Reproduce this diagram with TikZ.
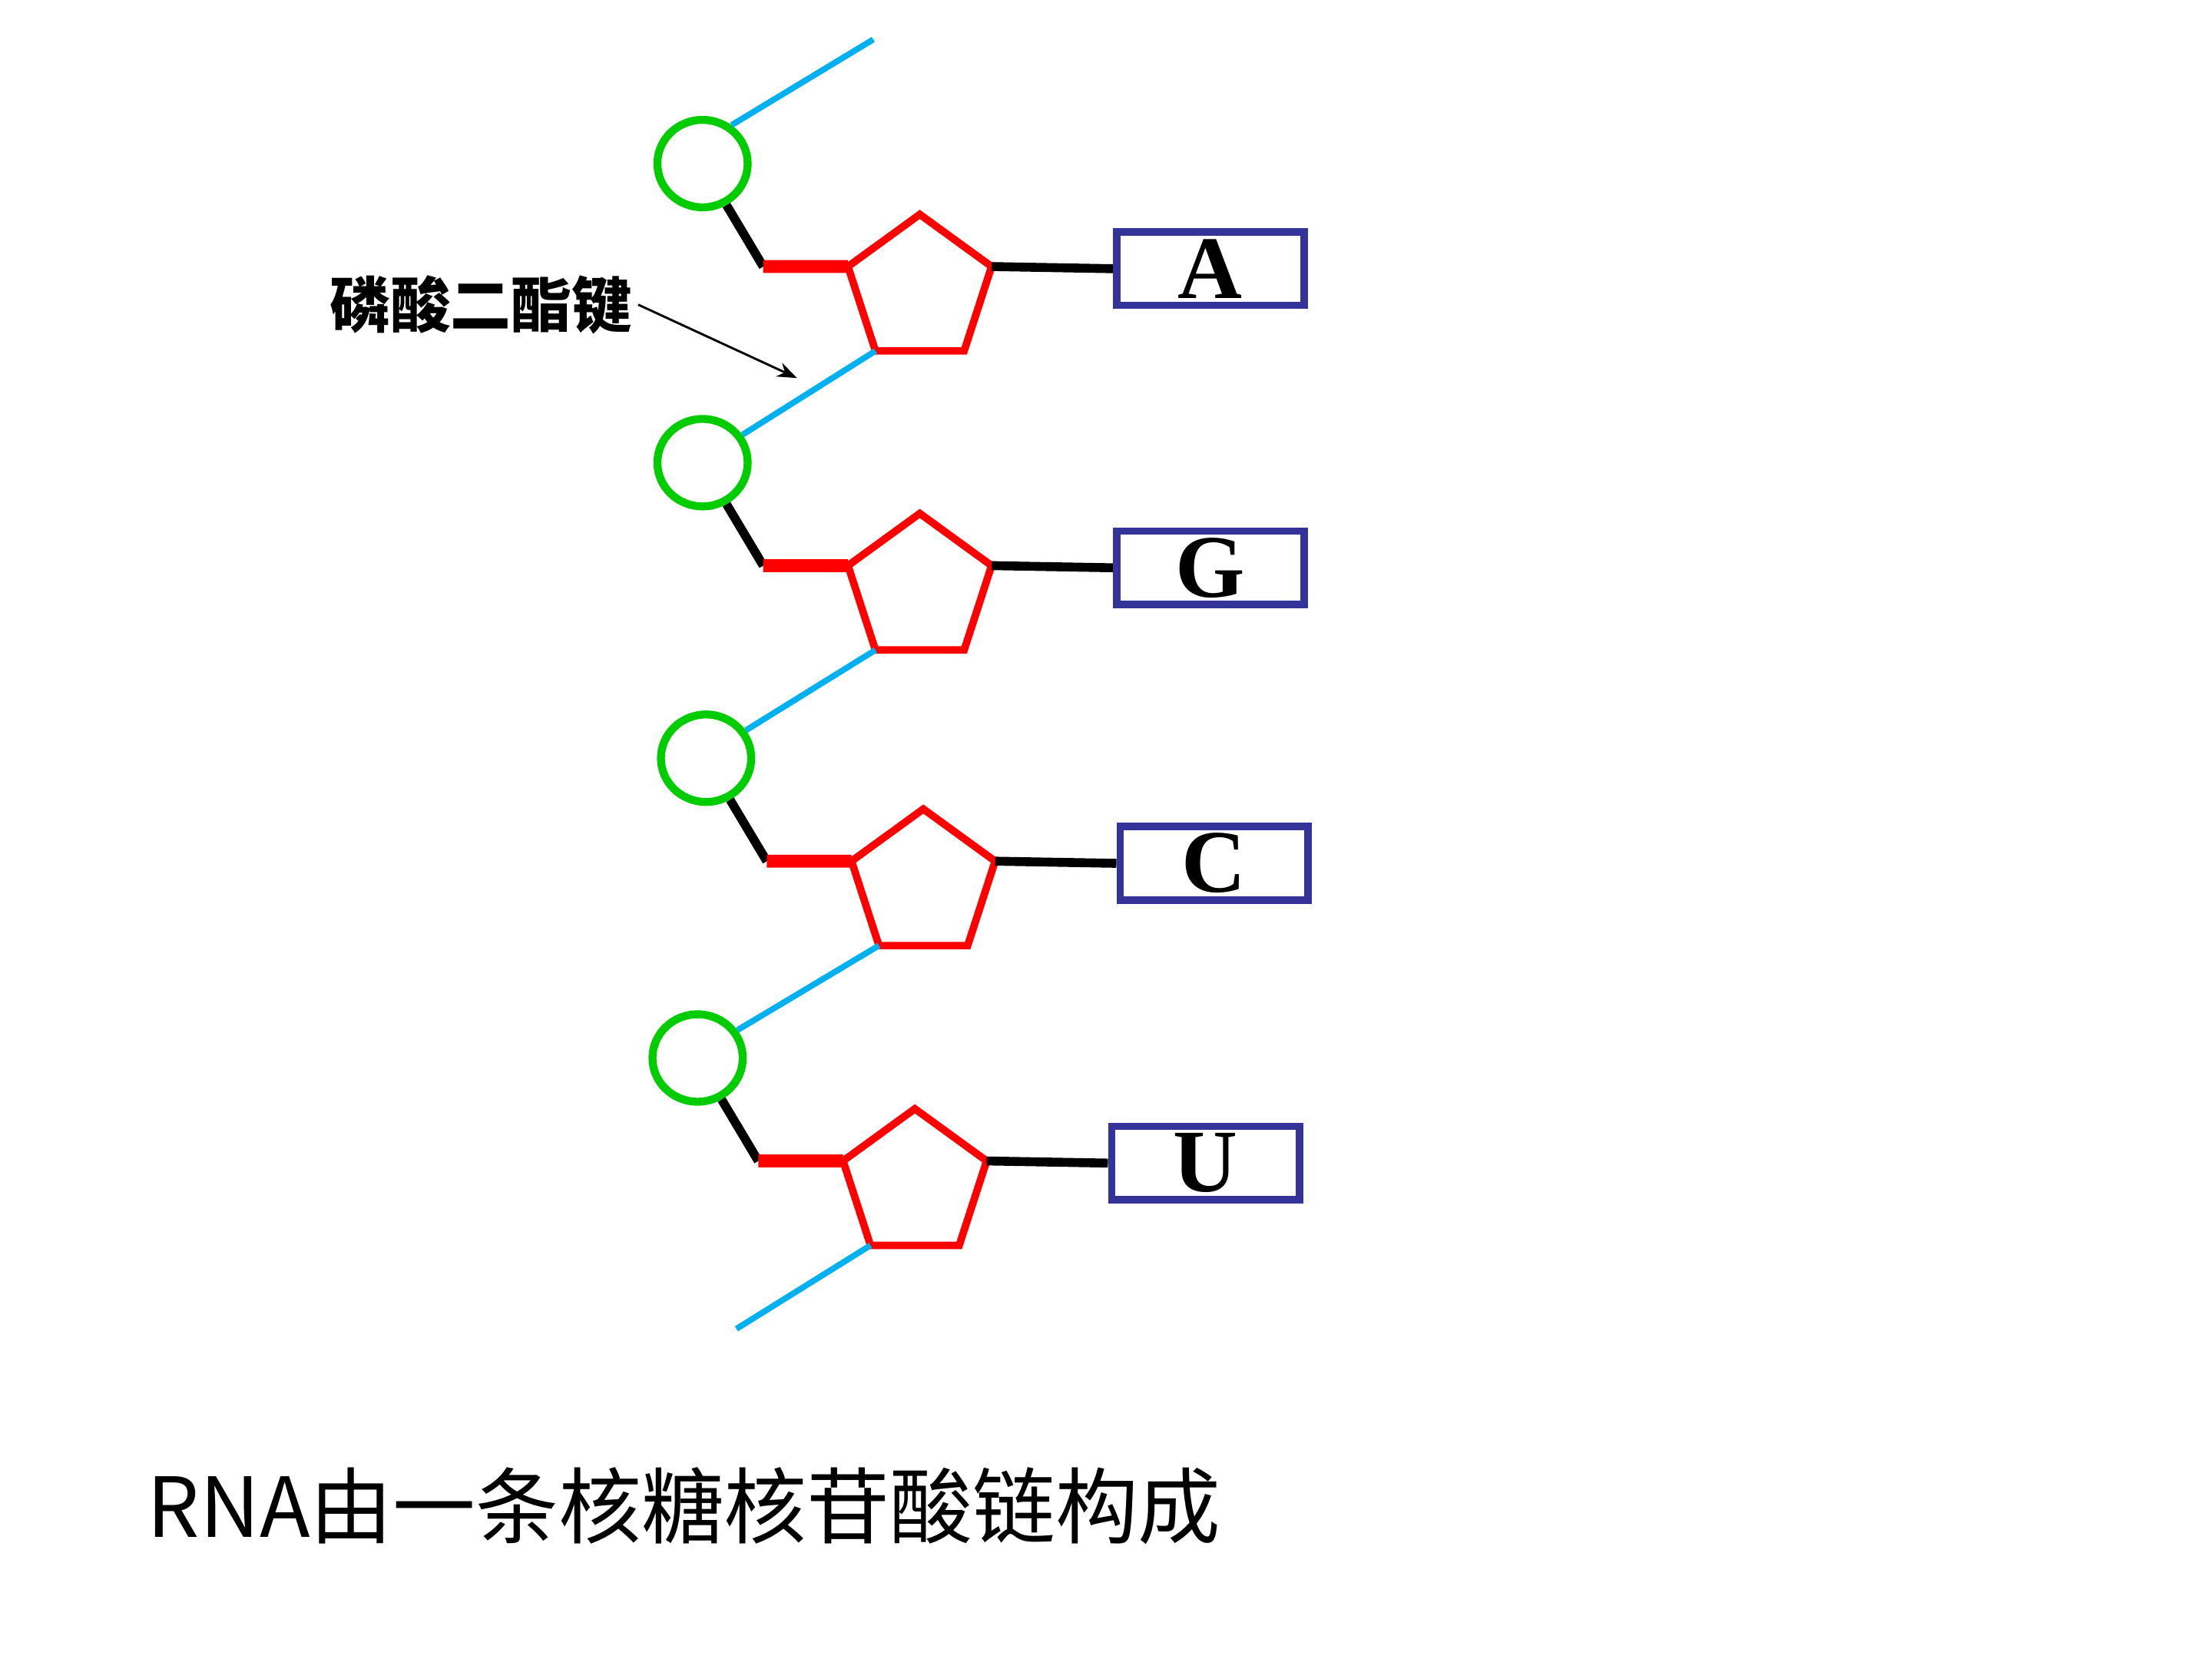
\documentclass[tikz,border=0pt]{standalone}
\usepackage{fontspec}
\setmainfont{Liberation Serif}
\newfontfamily\cjk{Noto Sans CJK SC}
\usepackage{tikz}
\usetikzlibrary{positioning,shapes.geometric,arrows.meta,calc}
\definecolor{phgreen}{RGB}{0,204,0}
\definecolor{bondblue}{RGB}{0,176,240}
\definecolor{basenavy}{RGB}{51,51,153}

\begin{document}
\begin{tikzpicture}[
        pho/.style={ellipse, draw=phgreen, line width=1.6pt,
                    minimum width=0.64cm, minimum height=0.62cm, inner sep=0pt},
        sug/.style={regular polygon, regular polygon sides=5, draw=red,
                    line width=1.5pt, minimum size=1.07cm, inner sep=0pt, outer sep=0pt},
        bas/.style={rectangle, draw=basenavy, line width=1.5pt,
                    minimum width=1.33cm, minimum height=0.52cm, inner sep=0pt,
                    font=\fontsize{18}{18}\selectfont\bfseries},
        ester/.style={bondblue, line width=1.2pt},
        stem/.style={black, line width=1.8pt},
        link/.style={red, line width=2.6pt}
      ]
        \useasboundingbox (0,0) rectangle (15.68,11.76);
        % nucleotides: phosphate, ribose, base
        \foreach \i/\dx/\dy/\b in {1/0/0/A, 2/0/2.12/G, 3/0.025/4.215/C, 4/-0.035/6.34/U}{
          \node[pho] (p\i) at (4.98+\dx, 10.60-\dy) {};
          \node[sug] (s\i) at (6.52+\dx, 9.705-\dy) {};
          \node[bas] (b\i) at (8.58+\dx, 9.855-\dy) {\b};
          \coordinate (j\i) at (5.41+\dx, 9.87-\dy);
          \draw[stem] (p\i.-60) -- (j\i);
          \draw[link] (j\i) -- (s\i.corner 2);
          \draw[stem] (s\i.corner 5) -- (b\i.west);
        }
        % phosphodiester bonds between units
        \foreach \i/\j in {1/2,2/3,3/4}
          \draw[ester] (s\i.corner 3) -- (p\j.35);
        \coordinate (up) at (6.19,11.48);
        \coordinate (dn) at (5.22,2.34);
        \draw[ester] (p1.53) -- (up);
        \draw[ester] (s4.corner 3) -- (dn);
        % label with pointer
        \node[font=\fontsize{12.2}{12.2}\selectfont\cjk\bfseries, inner sep=1pt]
              (lbl) at (3.41,9.60) {磷酸二酯键};
        \coordinate (tip) at (5.65,9.08);
        \draw[line width=0.45pt, -{Stealth[length=4pt,width=3pt]}] (lbl.east) -- (tip);
        % caption
        \node[font=\fontsize{16.7}{16.7}\selectfont\cjk] (cap) at (4.85,1.085)
              {RNA由一条核糖核苷酸链构成};
      \end{tikzpicture}
\end{document}
